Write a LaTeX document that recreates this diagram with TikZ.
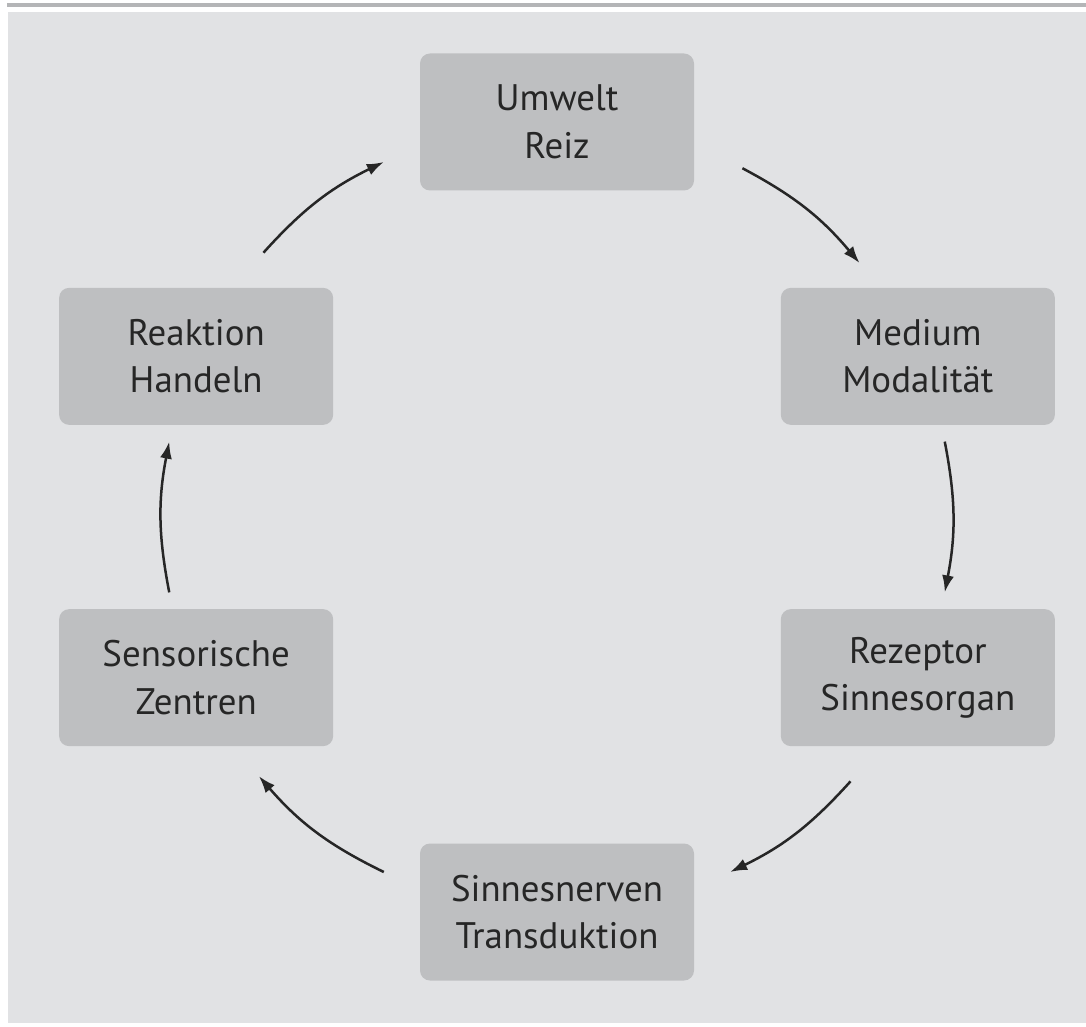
\documentclass[tikz,border=0pt]{standalone}
\usepackage{fontspec}
\setmainfont{PT Sans}
\usepackage{xcolor}
\usetikzlibrary{arrows.meta,calc}
\definecolor{panel}{HTML}{E1E2E4}
\definecolor{boxgray}{HTML}{BEBFC1}
\definecolor{rulegray}{HTML}{B4B5B7}
\definecolor{ink}{HTML}{262626}
\tikzset{>={Latex[length=3.4mm,width=2.4mm]}}
\tikzset{stage/.style={fill=boxgray, rounded corners=2mm, minimum width=5.48cm, minimum height=2.74cm,
  align=center, text=ink, font=\fontsize{21}{27}\selectfont}}
\tikzset{flow/.style={->, line width=0.5mm, draw=black!85}}

\begin{document}
\begin{tikzpicture}
\useasboundingbox (-11.14,-10.18) rectangle (10.58,10.34);
\fill[panel] (-10.98,-10.12) rectangle (10.58,10.10);
\draw[rulegray, line width=0.8mm] (-11.0,10.24) -- (10.58,10.24);

% stages on a circle
\node[stage] (umwelt) at (90:7.9) {Umwelt\\Reiz};
\node[stage] (medium) at (24:7.9) {Medium\\Modalität};
\node[stage] (rezeptor) at (-24:7.9) {Rezeptor\\Sinnesorgan};
\node[stage] (nerven) at (-90:7.9) {Sinnesnerven\\Transduktion};
\node[stage] (zentren) at (-156:7.9) {Sensorische\\Zentren};
\node[stage] (reaktion) at (156:7.9) {Reaktion\\Handeln};

% arrow ends
\coordinate (a1) at (138:7.9); \coordinate (b1) at (116:7.9);
\coordinate (a2) at (62:7.9);  \coordinate (b2) at (40:7.9);
\coordinate (a3) at (11:7.9);  \coordinate (b3) at (-11:7.9);
\coordinate (a4) at (-42:7.9); \coordinate (b4) at (-64:7.9);
\coordinate (a5) at (-116:7.9); \coordinate (b5) at (-139:7.9);
\coordinate (a6) at (-169:7.9); \coordinate (b6) at (169:7.9);

\draw[flow] (a1) to[bend left=11] (b1);
\draw[flow] (a2) to[bend left=11] (b2);
\draw[flow] (a3) to[bend left=11] (b3);
\draw[flow] (a4) to[bend left=11] (b4);
\draw[flow] (a5) to[bend left=11.5] (b5);
\draw[flow] (a6) to[bend left=11] (b6);
\end{tikzpicture}
\end{document}
